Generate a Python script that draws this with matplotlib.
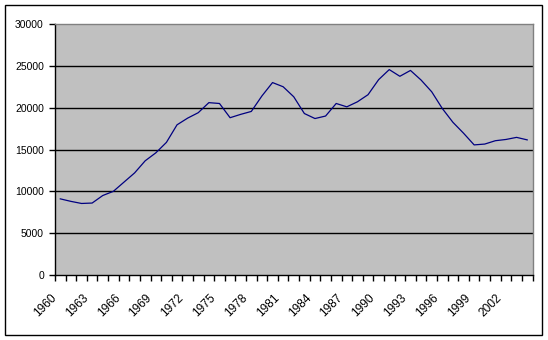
import matplotlib.pyplot as plt
from matplotlib.patches import Rectangle
import matplotlib.transforms as mtransforms
import numpy as np

years = list(range(1960, 2005))
values = [9100, 8800, 8550, 8600, 9500, 10000, 11100, 12200, 13650, 14600,
          15850, 17950, 18750, 19400, 20600, 20500, 18800, 19200, 19550, 21400,
          23000, 22500, 21300, 19300, 18700, 19000, 20500, 20100, 20700, 21550,
          23350, 24550, 23750, 24450, 23300, 21900, 19900, 18250, 16950, 15550,
          15650, 16050, 16200, 16450, 16150]
label_years = years[::3][:15]

plt.rcParams['font.family'] = 'Liberation Sans'

W, H = 548, 340
fig = plt.figure(figsize=(W / 100, H / 100), dpi=100)
fig.patch.set_facecolor('white')
fig.patches.append(Rectangle((5 / W, 5 / H), 537 / W, 330 / H, transform=fig.transFigure,
                             fill=False, edgecolor='black', linewidth=1.0))

ax = fig.add_axes([55 / W, 65 / H, 477.5 / W, 251 / H])
ax.set_facecolor('#C0C0C0')

x = np.arange(len(years))
for g in [5000, 10000, 15000, 20000, 25000]:
    ax.axhline(g, color='black', linewidth=1.0, zorder=1)
ax.plot(x, values, color='#000080', linewidth=0.9, zorder=3)

ax.set_xlim(-0.5, len(years) - 0.5)
ax.set_ylim(0, 30000)

ax.set_yticks(range(0, 30001, 5000))
ax.set_yticklabels([str(v) for v in range(0, 30001, 5000)], fontsize=7.5)
ax.tick_params(axis='y', direction='out', length=4, width=1, pad=4)

# ticks between categories, labels every third year
ax.set_xticks(np.arange(-0.5, len(years), 1.0))
ax.set_xticklabels([])
ax.tick_params(axis='x', which='major', direction='out', length=4, width=1)
pos = [years.index(y) for y in label_years]
ax.set_xticks(pos, minor=True)
ax.set_xticklabels([str(y) for y in label_years], minor=True, fontsize=8.6,
                   rotation=45, ha='right', va='top', rotation_mode='anchor')
ax.tick_params(axis='x', which='minor', length=0, pad=12)
offset = mtransforms.ScaledTranslation(-10 / 100, 0, fig.dpi_scale_trans)
for lbl in ax.get_xticklabels(minor=True):
    lbl.set_transform(lbl.get_transform() + offset)

ax.spines['left'].set_color('black')
ax.spines['bottom'].set_color('black')
ax.spines['top'].set_color('#808080')
ax.spines['right'].set_color('#808080')
for s in ax.spines.values():
    s.set_linewidth(1.0)

fig.savefig('out.png', dpi=100)
